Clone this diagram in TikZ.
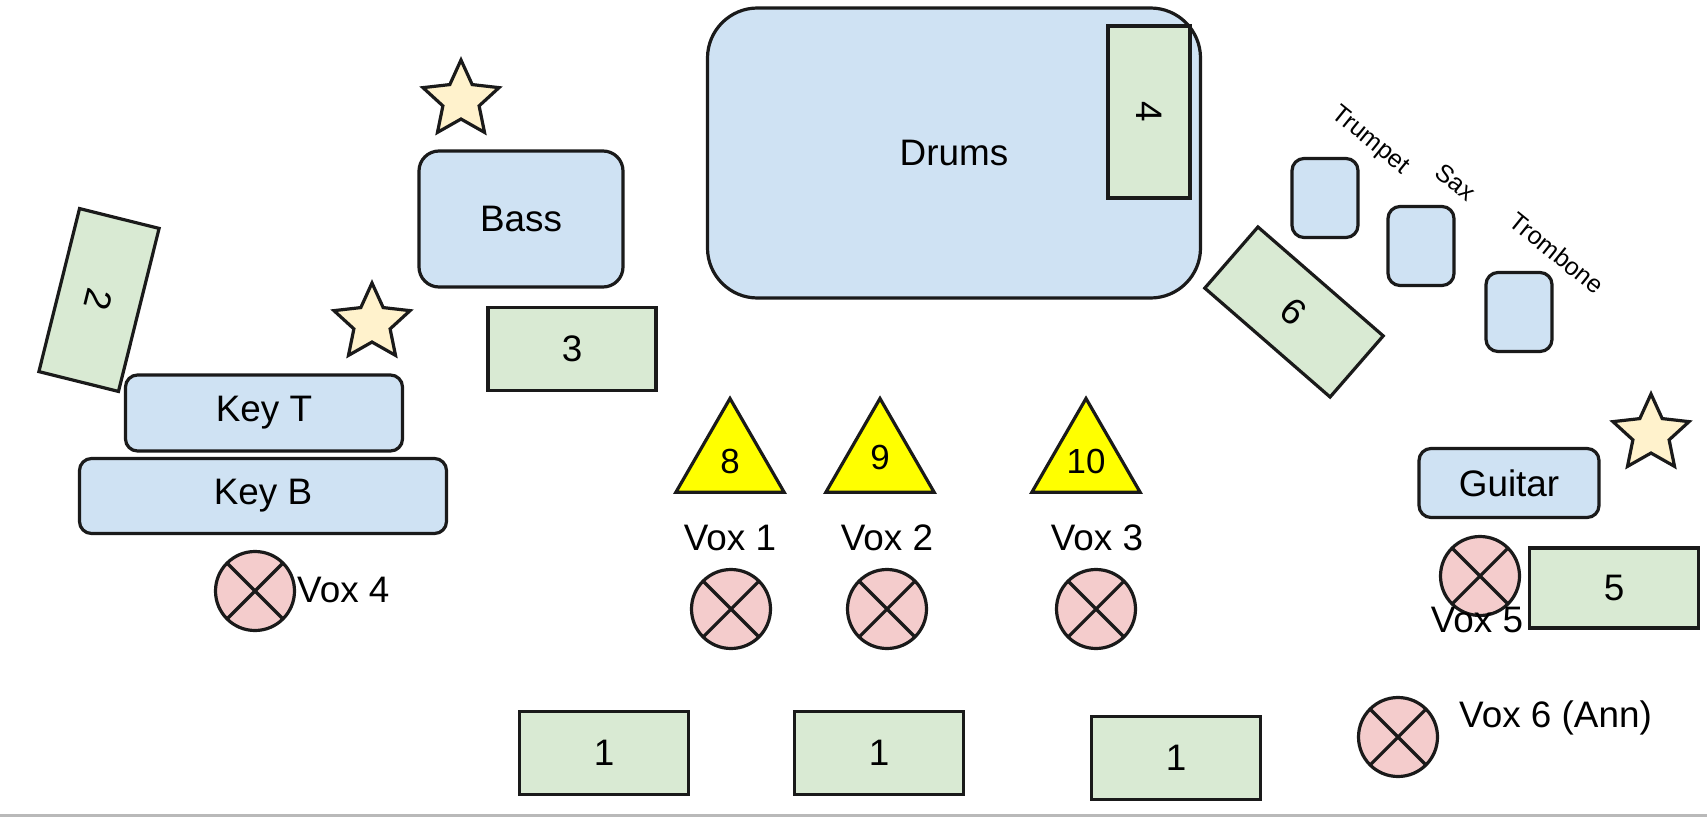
\documentclass[tikz,border=0pt]{standalone}
\usepackage{fontspec}
\setmainfont{Liberation Sans}
\usepackage{tikz}
\usetikzlibrary{shapes}
\definecolor{instblue}{HTML}{CFE2F3}
\definecolor{ampgreen}{HTML}{D9EAD3}
\definecolor{micpink}{HTML}{F4CCCC}
\definecolor{wedgeyellow}{HTML}{FFFF00}
\definecolor{starcream}{HTML}{FFF2CC}
\definecolor{edge}{HTML}{1A1A1A}
\begin{document}
\begin{tikzpicture}[
  inst/.style={draw=edge,line width=3.2bp,fill=instblue,rounded corners=12bp,inner sep=0pt,font=\fontsize{37}{44}\selectfont},
  amp/.style={draw=edge,line width=3.2bp,fill=ampgreen,inner sep=0pt,font=\fontsize{37}{44}\selectfont},
  mic/.style={circle,draw=edge,line width=3.2bp,fill=micpink,minimum size=79bp,inner sep=0pt,
    path picture={\draw[edge,line width=3.2bp] (path picture bounding box.north west) -- (path picture bounding box.south east)
      (path picture bounding box.north east) -- (path picture bounding box.south west);}},
  wedgetri/.style={regular polygon,regular polygon sides=3,draw=edge,line width=3.2bp,fill=wedgeyellow,minimum size=125bp,inner sep=1bp,font=\fontsize{35}{42}\selectfont},
  spot/.style={star,star points=5,star point ratio=2.1,draw=edge,line width=3.2bp,fill=starcream,minimum size=80bp,inner sep=0pt},
  lbl/.style={inner sep=0pt,font=\fontsize{37}{44}\selectfont},
  brasslbl/.style={inner sep=0pt,rotate=-39,font=\fontsize{25}{30}\selectfont}]
\useasboundingbox[fill=white] (0,0) rectangle (1707bp,-817bp);
\draw[gray!55,line width=3bp] (0,-815bp) -- (1707bp,-815bp);

\node (Drums) at (954bp,-153bp)[inst,rounded corners=50bp,minimum width=493bp,minimum height=290bp] {Drums};
\node (A4) at (1149bp,-112bp)[amp,rotate=-90,minimum width=172bp,minimum height=82bp] {4};
\node (Bass) at (521bp,-219bp)[inst,rounded corners=20bp,minimum width=204bp,minimum height=136bp] {Bass};
\node (A3) at (572bp,-349bp)[amp,minimum width=168bp,minimum height=83bp] {3};
\node (A2) at (99bp,-300bp)[amp,rotate=-104,minimum width=168bp,minimum height=82bp] {2};
\node (KeyT) at (264bp,-413bp)[inst,minimum width=277bp,minimum height=76bp] {Key T};
\node (KeyB) at (263bp,-496bp)[inst,minimum width=367bp,minimum height=75bp] {Key B};
\node (SA) at (461bp,-100bp)[spot] {};
\node (SB) at (372bp,-323bp)[spot] {};
\node (SC) at (1651bp,-434bp)[spot] {};

\node (V4) at (255bp,-591bp)[mic] {};
\node (L4) at (297bp,-590bp)[lbl,anchor=west] {Vox 4};

\node (W8) at (730bp,-461bp)[wedgetri] {8};
\node (W9) at (880bp,-461bp)[wedgetri] {\raisebox{7bp}{9}};
\node (W10) at (1086bp,-461bp)[wedgetri] {10};
\node (L1) at (730bp,-538bp)[lbl] {Vox 1};
\node (L2) at (887bp,-538bp)[lbl] {Vox 2};
\node (L3) at (1097bp,-538bp)[lbl] {Vox 3};
\node (V1) at (731bp,-609bp)[mic] {};
\node (V2) at (887bp,-609bp)[mic] {};
\node (V3) at (1096bp,-609bp)[mic] {};

\node (A6) at (1294bp,-312bp)[amp,rotate=-41,minimum width=166bp,minimum height=81bp] {6};
\node (Trumpet) at (1325bp,-198bp)[inst,minimum width=66bp,minimum height=79bp] {};
\node (Sax) at (1421bp,-246bp)[inst,minimum width=66bp,minimum height=79bp] {};
\node (Trombone) at (1519bp,-312bp)[inst,minimum width=66bp,minimum height=79bp] {};
\node (LT) at (1370bp,-141bp)[brasslbl] {Trumpet};
\node (LS) at (1456bp,-182bp)[brasslbl] {Sax};
\node (LB) at (1557bp,-253bp)[brasslbl] {Trombone};

\node (Guitar) at (1509bp,-483bp)[inst,minimum width=180bp,minimum height=69bp] {Guitar};
\node (V5) at (1480bp,-576bp)[mic] {};
\node (A5) at (1614bp,-588bp)[amp,minimum width=169bp,minimum height=80bp] {5};
\node (L5) at (1477bp,-620bp)[lbl] {Vox 5};

\node (A1a) at (604bp,-753bp)[amp,minimum width=169bp,minimum height=83bp] {1};
\node (A1b) at (879bp,-753bp)[amp,minimum width=169bp,minimum height=83bp] {1};
\node (A1c) at (1176bp,-758bp)[amp,minimum width=169bp,minimum height=83bp] {1};
\node (V6) at (1398bp,-737bp)[mic] {};
\node (L6) at (1459bp,-718bp)[lbl,anchor=west] {Vox 6 (Ann)};
\end{tikzpicture}
\end{document}
